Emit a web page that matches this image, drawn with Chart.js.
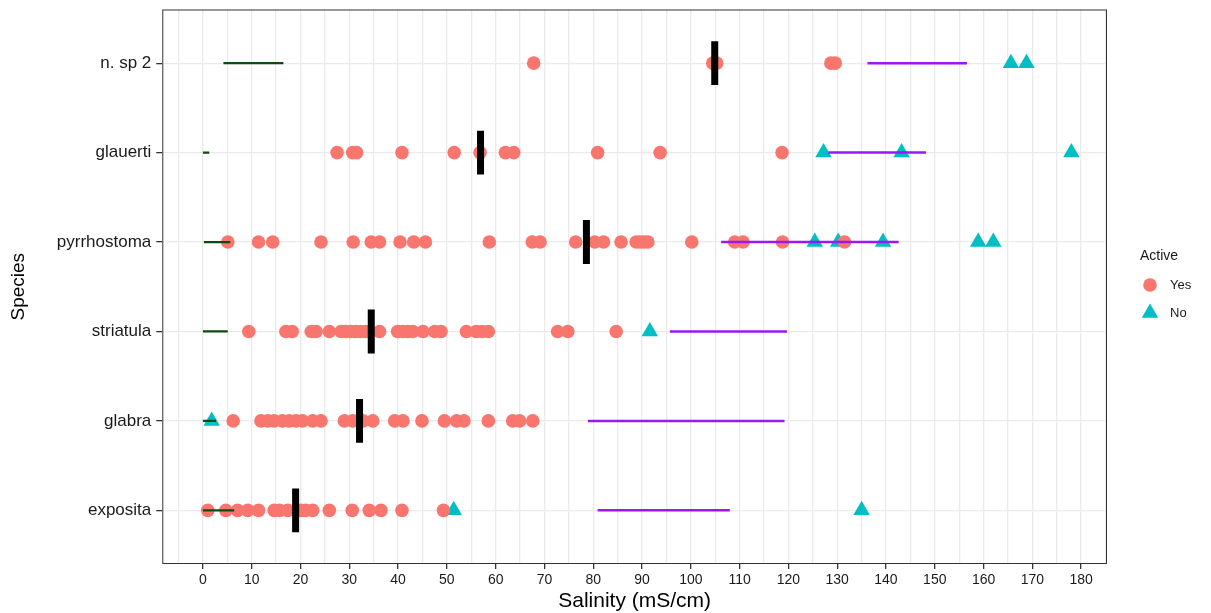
<!DOCTYPE html>
<html>
<head>
<meta charset="utf-8">
<script src="https://cdn.jsdelivr.net/npm/chart.js@4/dist/chart.umd.min.js"></script>
<style>
  html, body { margin: 0; padding: 0; background: #fff; }
  #wrap { width: 1211px; height: 613px; }
</style>
</head>
<body>
<div id="wrap"><canvas id="chart" width="1211" height="613"></canvas></div>
<script>
// species on the y axis, bottom to top (y = 1..6)
const species = ['exposita', 'glabra', 'striatula', 'pyrrhostoma', 'glauerti', 'n. sp 2'];

// active = Yes
const yesExposita = [1.0, 4.7, 7.1, 9.2, 11.4, 14.6, 15.7, 17.4, 19.0, 20.1, 21.1, 22.5, 25.9, 30.6, 34.1, 36.5, 40.8, 49.3];
const yesGlabra = [6.2, 11.9, 13.3, 14.6, 16.3, 17.7, 19.1, 20.4, 22.5, 24.2, 29.0, 30.7, 32.8, 34.8, 39.3, 41.0, 44.9, 49.5, 52.0, 53.5, 58.5, 63.5, 64.9, 67.6];
const yesStriatula = [9.4, 17.0, 18.3, 22.2, 23.2, 25.9, 28.3, 29.3, 30.3, 31.3, 32.3, 33.4, 36.2, 39.9, 41.0, 42.0, 43.0, 45.1, 47.5, 48.8, 54.0, 56.0, 57.2, 58.5, 72.7, 74.8, 84.7];
const yesPyrrhostoma = [5.1, 11.4, 14.3, 24.2, 30.8, 34.5, 36.2, 40.4, 43.2, 45.6, 58.7, 67.5, 69.1, 76.4, 80.3, 82.1, 85.7, 88.8, 89.6, 90.4, 91.2, 100.2, 109.0, 110.7, 118.8, 131.5];
const yesGlauerti = [27.5, 30.7, 31.5, 40.8, 51.5, 56.8, 62.0, 63.7, 80.9, 93.7, 118.7];
const yesNsp2 = [67.8, 104.5, 105.3, 128.7, 129.6];

// active = No
const noExposita = [51.4, 135.0];
const noGlabra = [1.8];
const noStriatula = [91.6];
const noPyrrhostoma = [125.4, 130.2, 139.4, 158.9, 162.0];
const noGlauerti = [127.2, 143.2, 178.0];
const noNsp2 = [165.6, 168.8];

const yesBySpecies = [yesExposita, yesGlabra, yesStriatula, yesPyrrhostoma, yesGlauerti, yesNsp2];
const noBySpecies = [noExposita, noGlabra, noStriatula, noPyrrhostoma, noGlauerti, noNsp2];

// medians (black bars)
const medians = [19.0, 32.1, 34.5, 78.6, 56.9, 104.9];

// low salinity range (green) and high range (purple)
const greenLow = [0, 0, 0, 0.2, 0, 4.2];
const greenHigh = [6.4, 2.7, 5.1, 5.6, 1.3, 16.5];
const purpleLow = [80.9, 78.9, 95.7, 106.2, 128.2, 136.2];
const purpleHigh = [108.0, 119.2, 119.7, 142.6, 148.2, 156.6];

const legendTitle = 'Active';
const legendLabels = ['Yes', 'No'];

const FONT = "'Liberation Sans', Arial, sans-serif";
const YES_COLOR = '#F8766D';
const NO_COLOR = '#00BFC4';

function toPoints(lists) {
    const pts = [];
    lists.forEach((vals, i) => vals.forEach(v => pts.push({ x: v, y: i + 1 })));
    return pts;
}

const datasets = [];

// range segments and medians sit on top of the points
species.forEach((s, i) => {
    datasets.push({
        label: 'low ' + s,
        data: [{ x: greenLow[i], y: i + 1 }, { x: greenHigh[i], y: i + 1 }],
        showLine: true, borderColor: '#0f4a12', borderWidth: 2.2,
        pointRadius: 0, order: 0
    });
    datasets.push({
        label: 'high ' + s,
        data: [{ x: purpleLow[i], y: i + 1 }, { x: purpleHigh[i], y: i + 1 }],
        showLine: true, borderColor: '#9b17f5', borderWidth: 2.5,
        pointRadius: 0, order: 0
    });
    datasets.push({
        label: 'median ' + s,
        data: [{ x: medians[i], y: i + 1 - 0.245 }, { x: medians[i], y: i + 1 + 0.245 }],
        showLine: true, borderColor: '#000', borderWidth: 7, borderCapStyle: 'butt',
        pointRadius: 0, order: 0
    });
});

const pointStyles = { Yes: ['circle', 6.8, YES_COLOR], No: ['triangle', 9.5, NO_COLOR] };

datasets.push({
    label: 'Yes',
    data: toPoints(yesBySpecies),
    pointStyle: 'circle', pointRadius: 6.8, pointBorderWidth: 0,
    backgroundColor: YES_COLOR, borderColor: YES_COLOR, order: 1
});
datasets.push({
    label: 'No',
    data: toPoints(noBySpecies),
    pointStyle: 'triangle', pointRadius: 9.5, pointBorderWidth: 0,
    backgroundColor: NO_COLOR, borderColor: NO_COLOR, order: 1
});

// black frame around the panel + ggplot-style legend in the right margin
const panelExtras = {
    id: 'panelExtras',
    afterDatasetsDraw(chart) {
        const a = chart.chartArea;
        const ctx = chart.ctx;
        ctx.save();
        ctx.strokeStyle = '#333';
        ctx.lineWidth = 1;
        ctx.strokeRect(a.left + 0.5, a.top + 0.5, a.right - a.left - 1, a.bottom - a.top - 1);

        const lx = a.right + 33;
        ctx.fillStyle = '#1a1a1a';
        ctx.textBaseline = 'middle';
        ctx.textAlign = 'left';
        ctx.font = '14px ' + FONT;
        ctx.fillText(legendTitle, lx, 256);
        ctx.font = '13px ' + FONT;
        legendLabels.forEach((lab, k) => {
            const y = 285 + k * 28;
            const st = pointStyles[lab];
            ctx.fillStyle = st[2];
            Chart.helpers.drawPoint(ctx, { pointStyle: st[0], radius: st[1], rotation: 0, borderWidth: 0 }, lx + 10, y);
            ctx.fillStyle = '#1a1a1a';
            ctx.fillText(lab, lx + 30, y);
        });
        ctx.restore();
    }
};

new Chart(document.getElementById('chart'), {
    type: 'scatter',
    data: { datasets },
    options: {
        responsive: false,
        animation: false,
        layout: { padding: { top: 6, right: 104, bottom: -1, left: 7 } },
        plugins: {
            tooltip: { enabled: false },
            legend: { display: false }
        },
        scales: {
            x: {
                type: 'linear',
                min: -8.33, max: 185.3,
                grid: {
                    color: '#EBEBEB', lineWidth: 1.3,
                    tickLength: 5,
                    tickColor: c => (c.tick && c.tick.value % 10 === 0) ? '#333' : 'rgba(0,0,0,0)'
                },
                border: { display: false },
                ticks: {
                    stepSize: 5, includeBounds: false, autoSkip: false, maxRotation: 0,
                    color: '#1a1a1a', font: { family: FONT, size: 14 },
                    padding: 3,
                    callback: v => (v % 10 === 0 ? String(v) : '')
                },
                title: {
                    display: true, text: 'Salinity (mS/cm)', color: '#000',
                    font: { family: FONT, size: 21 }, padding: { top: -3, bottom: 0 }
                }
            },
            y: {
                type: 'linear',
                min: 0.4, max: 6.6,
                afterFit: scale => { scale.paddingTop = 0; scale.paddingBottom = 0; },
                grid: { color: '#EBEBEB', lineWidth: 1.3, tickLength: 6, tickColor: '#333' },
                border: { display: false },
                ticks: {
                    stepSize: 1, includeBounds: false, autoSkip: false,
                    color: '#1a1a1a', font: { family: FONT, size: 17 }, padding: 5,
                    callback: v => species[v - 1] || ''
                },
                title: {
                    display: true, text: 'Species', color: '#000',
                    font: { family: FONT, size: 19 }, padding: { top: 0, bottom: 22 }
                }
            }
        }
    },
    plugins: [panelExtras]
});
</script>
</body>
</html>
